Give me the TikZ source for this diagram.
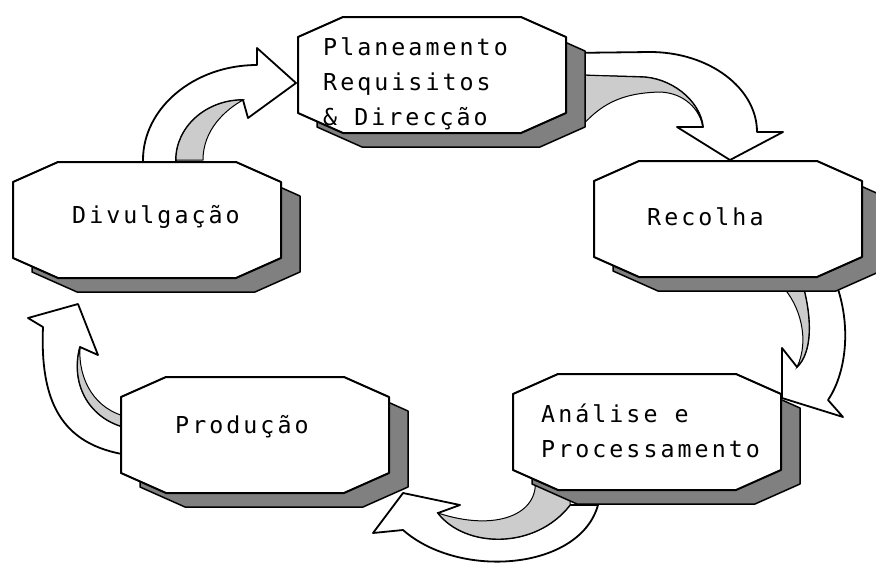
\documentclass[tikz,border=0pt]{standalone}
\usepackage{fontspec}
\usetikzlibrary{calc}
\newfontfamily\boxfont[LetterSpace=13]{DejaVu Sans Mono}
\definecolor{shadowgray}{gray}{0.5}
\definecolor{facegray}{gray}{0.8}
% octagon round a stage node: node, style, shift x, shift y
\newcommand{\octagon}[4]{
  \draw[#2] ($(#1.north west)+(#3,#4+20)$) -- ($(#1.north west)+(#3+45,#4)$)
    -- ($(#1.north east)+(#3-45,#4)$) -- ($(#1.north east)+(#3,#4+20)$)
    -- ($(#1.south east)+(#3,#4-20)$) -- ($(#1.south east)+(#3-45,#4)$)
    -- ($(#1.south west)+(#3+45,#4)$) -- ($(#1.south west)+(#3,#4-20)$) -- cycle;
}

\begin{document}
\begin{tikzpicture}[x=1pt, y=-1pt,
    stage/.style={rectangle, minimum width=268pt, minimum height=116pt,
      inner sep=0pt, outer sep=0pt},
    boxline/.style={draw=black, line width=2pt, fill=white, line join=round},
    shadowline/.style={draw=black, line width=1.5pt, fill=shadowgray, line join=round},
    lbl/.style={font=\boxfont\fontsize{23.3}{35}\selectfont, inner sep=0pt, anchor=base west, align=left},
    blockarrow/.style={fill=white, draw=black, line width=1.8pt, line join=round},
    face/.style={fill=facegray, draw=black, line width=1pt}]
  \useasboundingbox (0,0) rectangle (876,563);

  % arrows between the stages
  \draw[blockarrow] (143,168) -- (143,160) .. controls (143,108) and (194,65) .. (257,65)
    -- (257,48) -- (296,83) -- (248,118) -- (243,100)
    .. controls (206,100) and (176,127) .. (176,160) -- (176,168) -- cycle;
  \draw[face] (176,160) .. controls (176,127) and (206,100) .. (243,100)
    .. controls (225,110) and (203,130) .. (203,160) -- cycle;

  \draw[blockarrow] (566,53) -- (650,52) .. controls (709,52) and (757,88) .. (757,132)
    -- (783,132) -- (730,160) -- (677,127) -- (703,127)
    .. controls (700,100) and (670,77) .. (640,77) -- (566,75) -- cycle;
  \draw[face] (703,127) .. controls (700,100) and (670,77) .. (640,77) -- (580,75)
    -- (580,128) .. controls (600,105) and (620,93) .. (660,92)
    .. controls (685,93) and (700,110) .. (703,127) -- cycle;

  \draw[blockarrow] (837,286) .. controls (852,330) and (845,375) .. (828,400)
    -- (843,417) -- (782,398) -- (782,348) -- (797,367)
    .. controls (812,352) and (812,320) .. (803,286) -- cycle;
  \draw[face] (782,286) .. controls (800,305) and (810,340) .. (797,367)
    .. controls (812,352) and (812,320) .. (803,286) -- cycle;

  \draw[blockarrow] (598,505) .. controls (580,570) and (460,580) .. (403,530)
    -- (373,533) -- (403,493) -- (460,505) -- (438,513)
    .. controls (465,548) and (535,550) .. (570,505) -- cycle;
  \draw[face] (438,513) .. controls (495,532) and (540,515) .. (535,478) -- (570,500)
    -- (570,505) .. controls (535,550) and (465,548) .. (438,513) -- cycle;

  \draw[blockarrow] (128,455) .. controls (60,445) and (40,400) .. (43,327)
    -- (28,318) -- (78,304) -- (98,355) -- (80,347)
    .. controls (70,385) and (90,420) .. (128,428) -- cycle;
  \draw[face] (80,347) .. controls (78,380) and (95,410) .. (128,417) -- (128,428)
    .. controls (90,420) and (70,385) .. (80,347) -- cycle;

  % the five stages
  \node[stage] (plan) at (432,75) {};
  \node[stage] (recolha) at (728,219) {};
  \node[stage] (analise) at (647,432) {};
  \node[stage] (producao) at (255,435) {};
  \node[stage] (divulg) at (147,220) {};
  \foreach \s in {plan, recolha, analise, producao, divulg} {
    \octagon{\s}{shadowline}{19}{14}
    \octagon{\s}{boxline}{0}{0}
  }

  \node[lbl] (plan-txt) at (323,125) {Planeamento\\Requisitos\\\& Direcção};
  \node[lbl] (recolha-txt) at (647,225) {Recolha};
  \node[lbl] (analise-txt) at (541,457) {Análise e\\Processamento};
  \node[lbl] (producao-txt) at (175,433) {Produção};
  \node[lbl] (divulg-txt) at (72,223) {Divulgação};
\end{tikzpicture}
\end{document}
